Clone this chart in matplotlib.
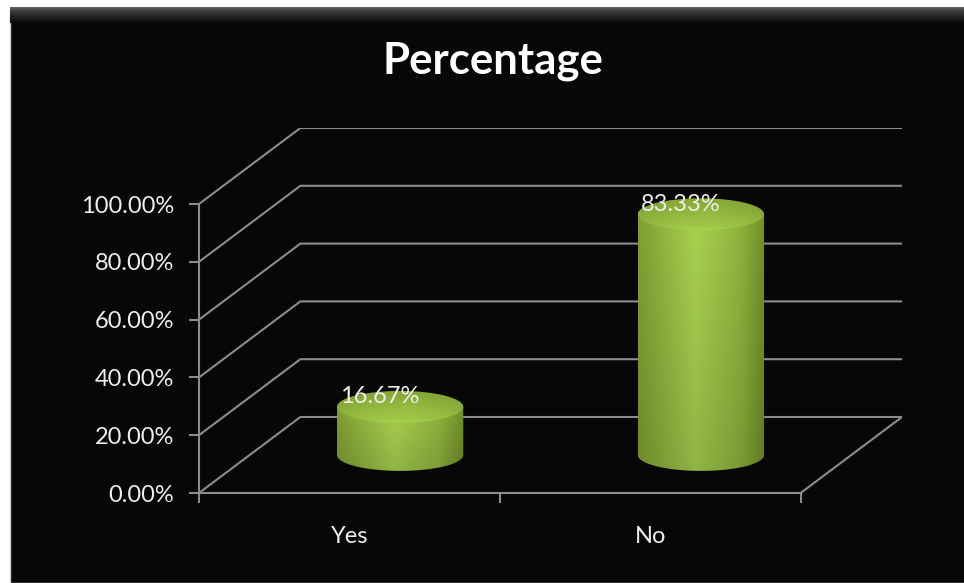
import numpy as np
import matplotlib.pyplot as plt
from matplotlib.path import Path
from matplotlib.patches import Ellipse, PathPatch, Rectangle
from matplotlib.colors import LinearSegmentedColormap

plt.rcParams['font.family'] = ['Lato', 'DejaVu Sans']

categories = ['Yes', 'No']
values = [16.67, 83.33]
value_labels = ['16.67%', '83.33%']
yticks = [0, 20, 40, 60, 80, 100]
ytick_labels = ['0.00%', '20.00%', '40.00%', '60.00%', '80.00%', '100.00%']
title = 'Percentage'

# fake 3d: offset of the back wall in data units
depth_x, depth_y = 0.337, 26.3
rad_x, rad_y = 0.21, 5.5
grid_c = '#8c8c8c'
txt_c = '#eeeeee'

fig = plt.figure(figsize=(9.64, 5.83), dpi=100, facecolor='white')
fig.add_artist(Rectangle((10/964, 0), 1, 576/583, transform=fig.transFigure,
                         facecolor='#070707', edgecolor='#d0d0d0', lw=1, zorder=0))

# bevel at top of panel
bax = fig.add_axes([10/964, 560/583, 1-10/964, 16/583])
bev = np.linspace(0, 1, 50)[:, None] ** 0.6
bax.imshow(bev, aspect='auto', cmap=LinearSegmentedColormap.from_list('bev', ['#6a6a6a', '#0a0a0a']))
bax.axis('off')

fig.text(493/964, 1-61/583, title, ha='center', va='center', fontsize=31.5,
         fontweight='bold', color='white')

ax = fig.add_axes([199/964, 90/583, 703/964, 365/583])
ax.set_facecolor('none')

# back wall / floor gridlines
for v in yticks:
    ax.plot([-0.5, -0.5+depth_x, 1.5+depth_x], [v, v+depth_y, v+depth_y],
            color=grid_c, lw=1.5, zorder=1, solid_capstyle='butt')
ax.plot([1.5, 1.5+depth_x], [0, depth_y], color=grid_c, lw=1.5, zorder=1)

body_cmap = LinearSegmentedColormap.from_list(
    'cyl', [(0, '#7f9f33'), (0.45, '#a9d250'), (0.8, '#90b53e'), (1, '#728f2a')])
top_cmap = LinearSegmentedColormap.from_list(
    'top', [(0, '#a8d24e'), (0.12, '#a0c846'), (0.5, '#94ba40'), (1, '#86a836')])

for i, v in enumerate(values):
    cx = i + depth_x/2
    y0 = depth_y/2
    y1 = y0 + v
    t = np.linspace(np.pi, 2*np.pi, 80)
    xs = list(cx + rad_x*np.cos(t)) + [cx+rad_x, cx-rad_x]
    ys = list(y0 + rad_y*np.sin(t)) + [y1, y1]
    body = PathPatch(Path(np.column_stack([xs, ys]), closed=False), fc='none', ec='none')
    ax.add_patch(body)
    rgb = body_cmap(np.linspace(0, 1, 200))[:, :3]
    shade = np.linspace(0.86, 1.0, 100)[:, None, None]
    im = ax.imshow(rgb[None, :, :]*shade, extent=[cx-rad_x, cx+rad_x, y0-rad_y, y1],
                   origin='lower', aspect='auto', zorder=3)
    im.set_clip_path(body)

    top = Ellipse((cx, y1), 2*rad_x, 2*rad_y, fc='none', ec='none')
    ax.add_patch(top)
    vt = top_cmap(np.linspace(0, 1, 100))[:, :3]
    hshade = 0.92 + 0.08*np.sin(np.linspace(0, np.pi, 200))
    im2 = ax.imshow(vt[:, None, :]*hshade[None, :, None],
                    extent=[cx-rad_x, cx+rad_x, y1-rad_y, y1+rad_y],
                    origin='lower', aspect='auto', zorder=4)
    im2.set_clip_path(top)

    ax.text(cx-0.067, y1+3.5, value_labels[i], ha='center', va='center',
            fontsize=17, color=txt_c, zorder=5)

ax.set_xlim(-0.5, 1.5+depth_x)
ax.set_ylim(0, 100+depth_y)

for s in ['top', 'right']:
    ax.spines[s].set_visible(False)
for s in ['left', 'bottom']:
    ax.spines[s].set_color(grid_c)
    ax.spines[s].set_linewidth(1.5)
ax.spines['left'].set_bounds(0, 100)
ax.spines['bottom'].set_bounds(-0.5, 1.5)

ax.set_yticks(yticks)
ax.set_yticklabels(ytick_labels)
ax.tick_params(axis='y', length=7, width=1.5, color=grid_c, labelcolor=txt_c,
               labelsize=17, pad=11)
ax.set_xticks([-0.5, 0.5, 1.5])
ax.set_xticklabels([])
ax.set_xticks([0, 1], minor=True)
ax.set_xticklabels(categories, minor=True)
ax.tick_params(axis='x', which='major', length=7, width=1.5, color=grid_c)
ax.tick_params(axis='x', which='minor', length=0, labelcolor=txt_c,
               labelsize=17, pad=24)

fig.savefig('out.png', dpi=100, facecolor=fig.get_facecolor())
